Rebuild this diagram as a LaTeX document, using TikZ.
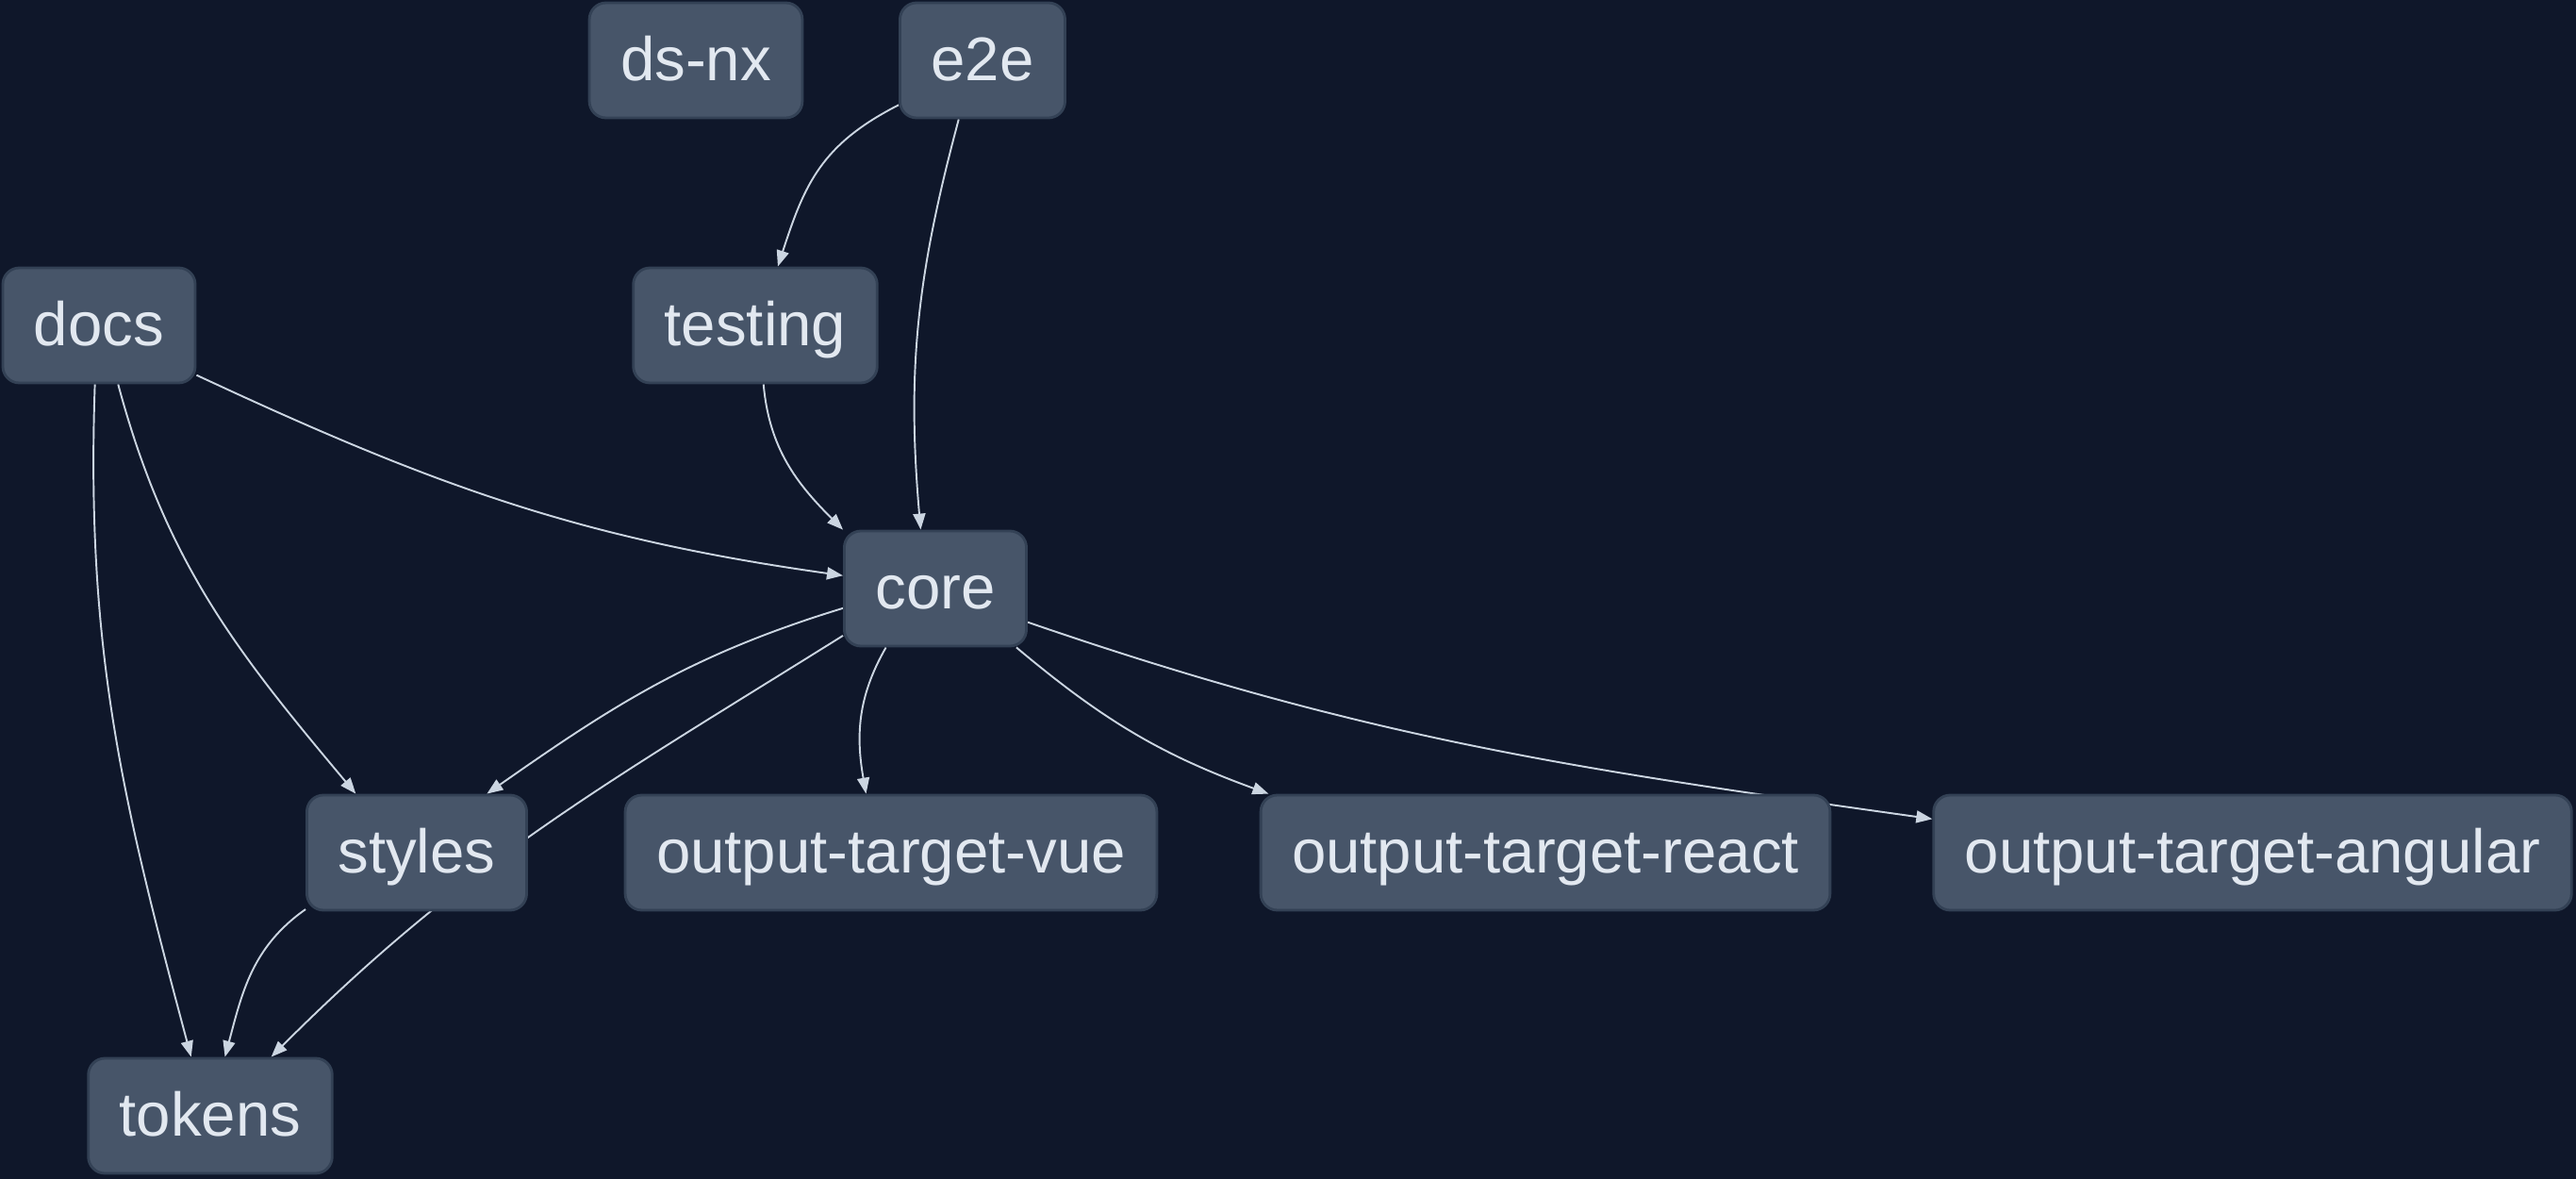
\documentclass[tikz,border=0pt]{standalone}
\usepackage{fontspec}
\setmainfont{Liberation Sans}
\usetikzlibrary{arrows.meta,backgrounds}
\definecolor{bgdark}{HTML}{0F172A}
\definecolor{boxfill}{HTML}{475569}
\definecolor{boxline}{HTML}{334155}
\definecolor{boxtext}{HTML}{E2E8F0}
\definecolor{edgecol}{HTML}{CBD5E1}

\begin{document}
\begin{tikzpicture}[
    pkg/.style={draw=boxline, line width=0.8pt, rounded corners=5pt, fill=boxfill, text=boxtext, minimum height=1.22cm, inner xsep=0.33cm, text height=15pt, text depth=3pt, font=\fontsize{18.6}{22}\selectfont},
    arr/.style={-{Triangle[length=0.17cm, width=0.13cm]}, draw=edgecol, line width=0.55pt}
]
\useasboundingbox (0,0) rectangle (27.32,-12.5);

\node[pkg] (dsnx) at (7.38,-0.64) {ds-nx};
\node[pkg] (e2e) at (10.42,-0.64) {e2e};
\node[pkg] (docs) at (1.05,-3.45) {docs};
\node[pkg] (testing) at (8.01,-3.45) {testing};
\node[pkg] (core) at (9.92,-6.24) {core};
\node[pkg] (styles) at (4.42,-9.04) {styles};
\node[pkg] (vue) at (9.45,-9.04) {output-target-vue};
\node[pkg] (react) at (16.39,-9.04) {output-target-react};
\node[pkg] (angular) at (23.89,-9.04) {output-target-angular};
\node[pkg] (tokens) at (2.23,-11.83) {tokens};

\begin{scope}[on background layer]
\fill[bgdark] (0,0) rectangle (27.32,-12.5);
\draw[arr] (e2e.208) to[out=207, in=72, looseness=1.1] (testing.69);
\draw[arr] (e2e.248) to[out=255, in=95] (core.104);
\draw[arr] (testing.278) to[out=275, in=135] (core.north west);
\draw[arr] (docs.333) to[out=-25, in=172] (core.172);
\draw[arr] (docs.288) to[out=-75, in=130] (styles.136);
\draw[arr] (docs.266) to[out=268, in=105] (tokens.108);
\draw[arr] (core.192) to[out=197, in=35] (styles.40);
\draw[arr] (core.207) to[out=212, in=45] (tokens.44);
\draw[arr] (styles.207) to[out=215, in=75] (tokens.76);
\draw[arr] (core.230) to[out=240, in=100] (vue.113);
\draw[arr] (core.324) to[out=-40, in=160] (react.168);
\draw[arr] (core.340) to[out=-19, in=172] (angular.174);
\end{scope}
\end{tikzpicture}
\end{document}
